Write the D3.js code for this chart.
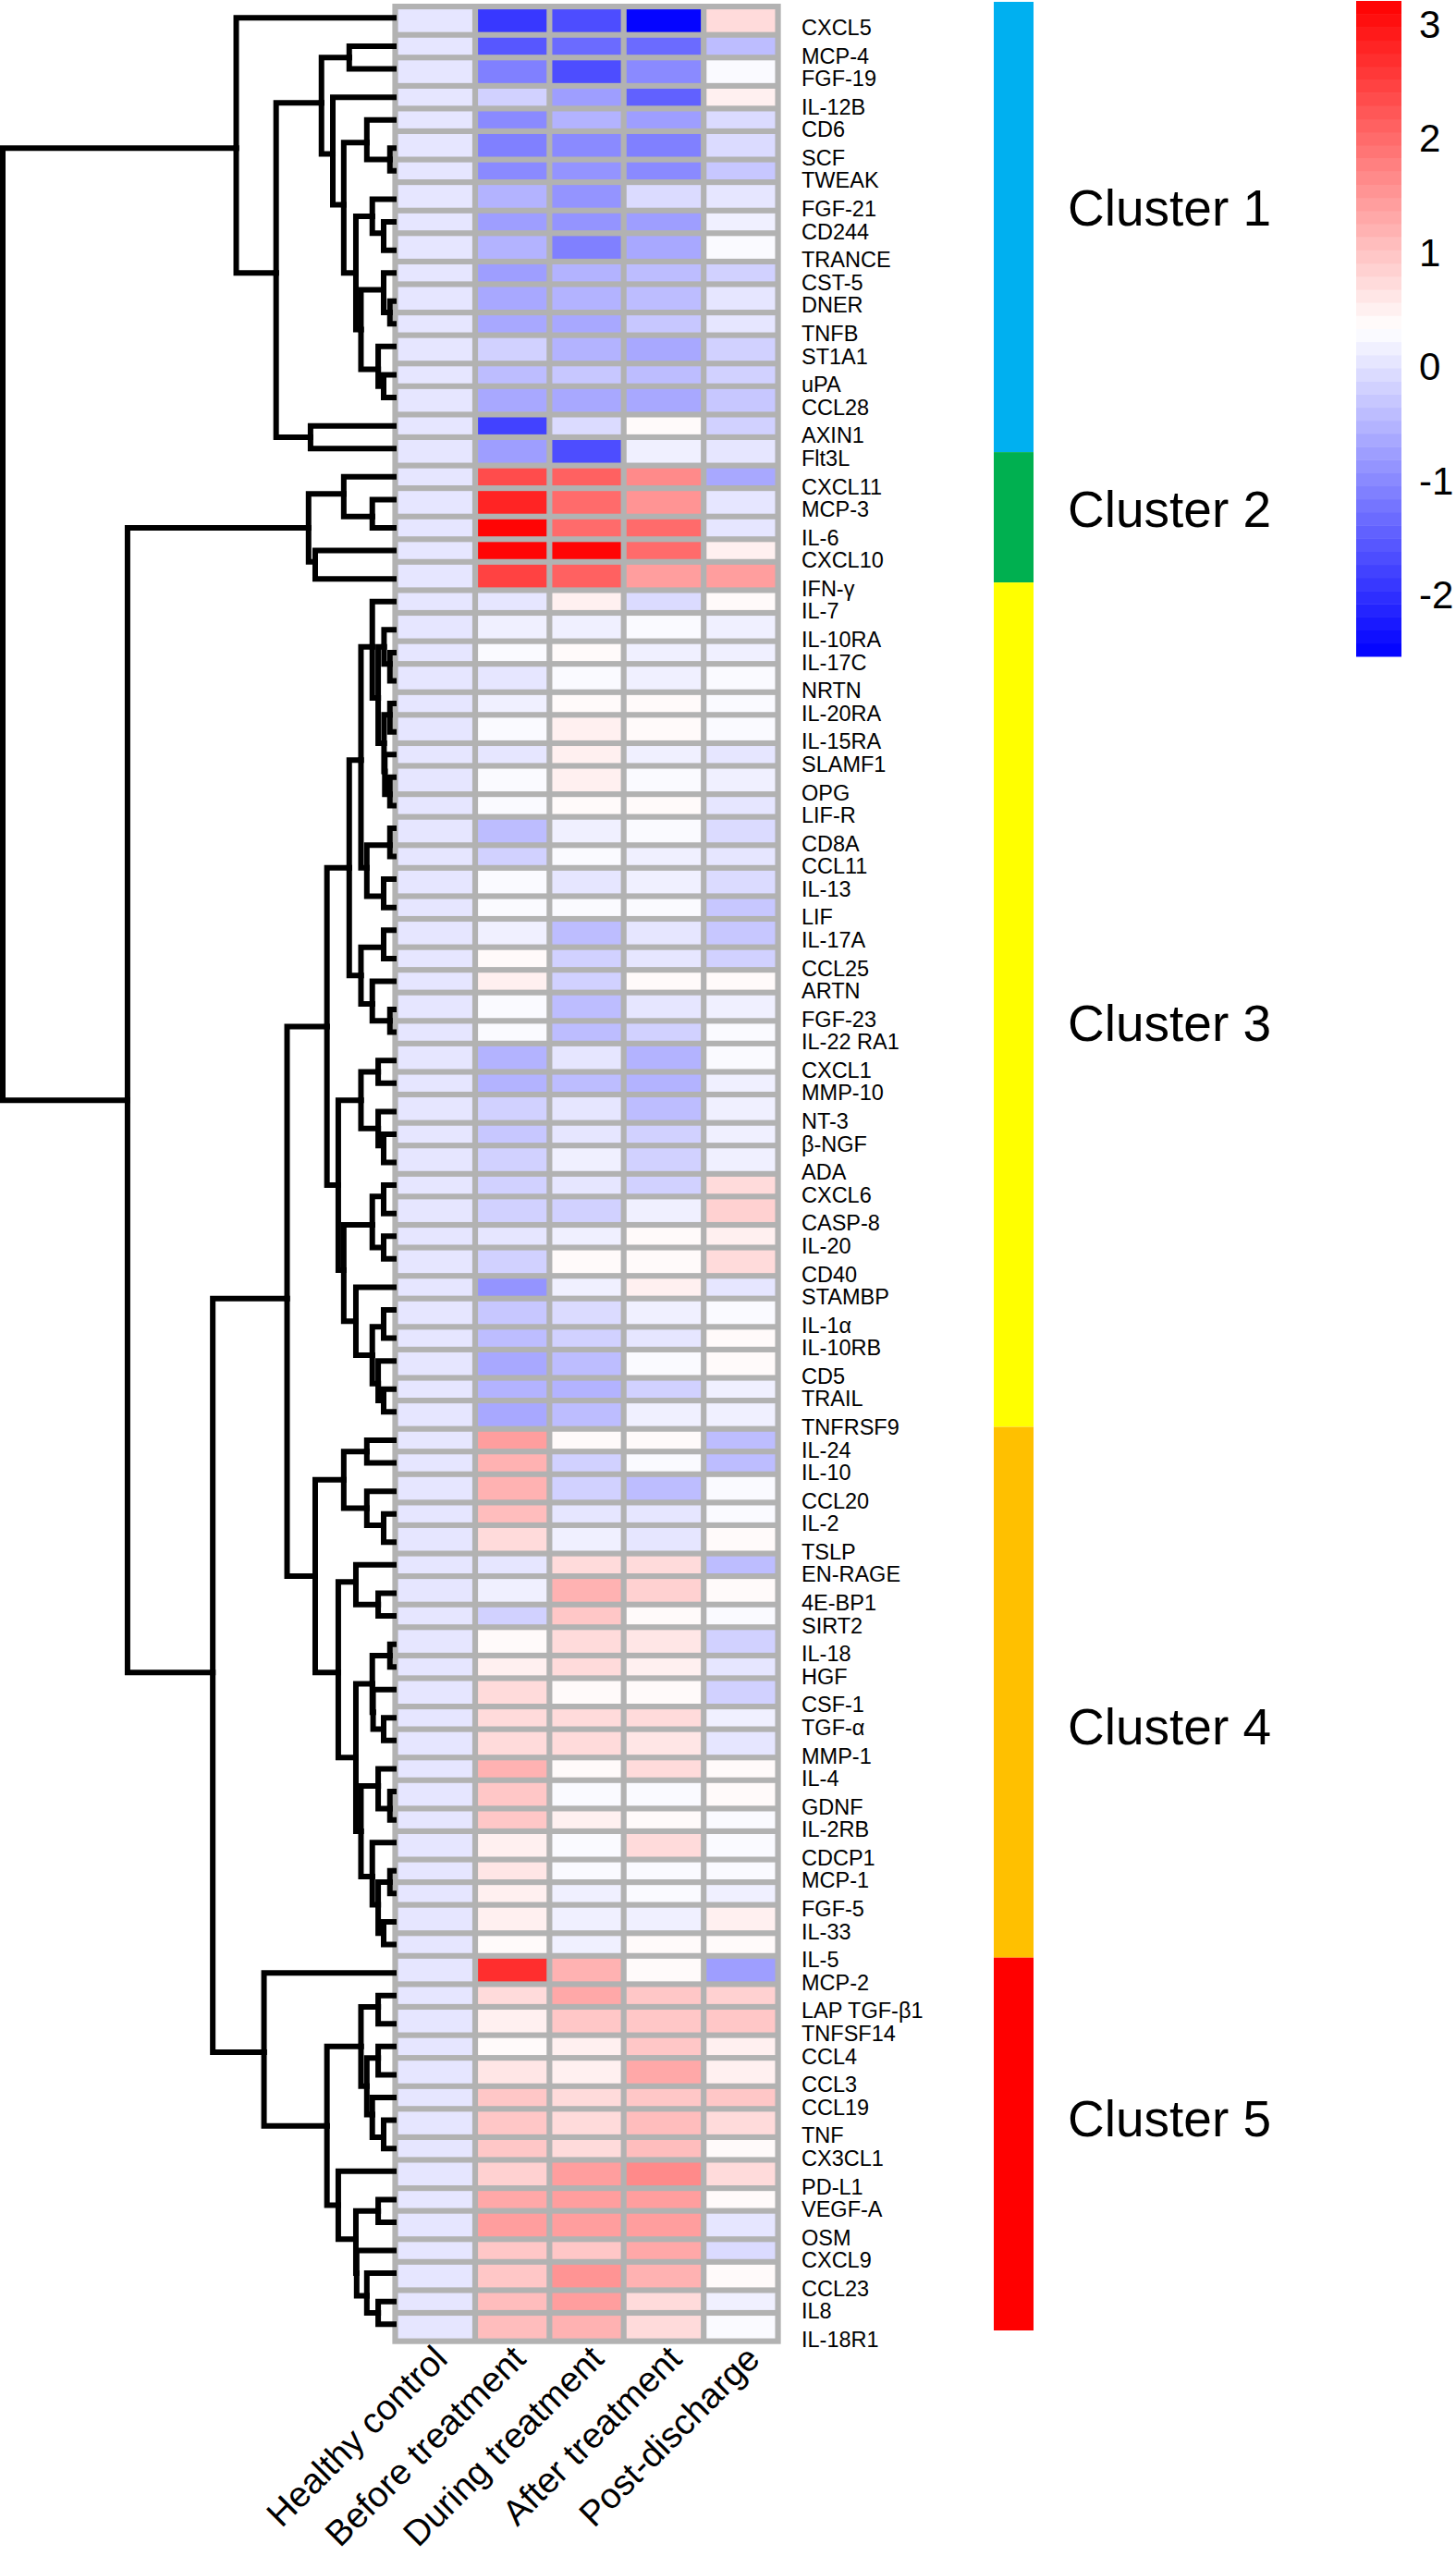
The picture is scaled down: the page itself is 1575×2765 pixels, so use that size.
<!DOCTYPE html>
<html>
<head>
<meta charset="utf-8">
<script src="https://cdn.jsdelivr.net/npm/d3@7"></script>
<style>
    body { margin: 0; background: #fff; }
    text { font-family: "Liberation Sans", Arial, sans-serif; fill: #000; }
</style>
</head>
<body>
<script>
var groups = ['Healthy control', 'Before treatment', 'During treatment', 'After treatment', 'Post-discharge'];

var proteins = ['CXCL5', 'MCP-4', 'FGF-19', 'IL-12B', 'CD6', 'SCF', 'TWEAK', 'FGF-21', 'CD244', 'TRANCE', 'CST-5', 'DNER', 'TNFB', 'ST1A1', 'uPA', 'CCL28', 'AXIN1', 'Flt3L',
    'CXCL11', 'MCP-3', 'IL-6', 'CXCL10', 'IFN-γ',
    'IL-7', 'IL-10RA', 'IL-17C', 'NRTN', 'IL-20RA', 'IL-15RA', 'SLAMF1', 'OPG', 'LIF-R', 'CD8A', 'CCL11', 'IL-13', 'LIF', 'IL-17A', 'CCL25', 'ARTN', 'FGF-23', 'IL-22 RA1', 'CXCL1', 'MMP-10', 'NT-3', 'β-NGF', 'ADA', 'CXCL6', 'CASP-8', 'IL-20', 'CD40', 'STAMBP', 'IL-1α', 'IL-10RB', 'CD5', 'TRAIL', 'TNFRSF9',
    'IL-24', 'IL-10', 'CCL20', 'IL-2', 'TSLP', 'EN-RAGE', '4E-BP1', 'SIRT2', 'IL-18', 'HGF', 'CSF-1', 'TGF-α', 'MMP-1', 'IL-4', 'GDNF', 'IL-2RB', 'CDCP1', 'MCP-1', 'FGF-5', 'IL-33', 'IL-5',
    'MCP-2', 'LAP TGF-β1', 'TNFSF14', 'CCL4', 'CCL3', 'CCL19', 'TNF', 'CX3CL1', 'PD-L1', 'VEGF-A', 'OSM', 'CXCL9', 'CCL23', 'IL8', 'IL-18R1'];

// 各组数值，顺序同 proteins
var healthy = [0, 0, 0, 0, 0, 0, 0, 0, 0, 0, 0, 0, 0, 0, 0, 0, 0, 0,
    0, 0, 0, 0, 0,
    0, 0, 0, 0, 0, 0, 0, 0, 0, 0, 0, 0, 0, 0, 0, 0, 0, 0, 0, 0, 0, 0, 0, 0, 0, 0, 0, 0, 0, 0, 0, 0, 0,
    0, 0, 0, 0, 0, 0, 0, 0, 0, 0, 0, 0, 0, 0, 0, 0, 0, 0, 0, 0, 0,
    0, 0, 0, 0, 0, 0, 0, 0, 0, 0, 0, 0, 0, 0, 0];
var before = [-1.95, -1.6, -1.07, -0.23, -1.0, -1.07, -0.94, -0.5, -0.72, -0.5, -0.72, -0.66, -0.62, -0.23, -0.42, -0.6, -1.8, -0.8,
    2.4, 2.85, 3.21, 3.21, 2.49,
    0.05, 0.17, 0.28, 0.05, 0.17, 0.28, 0.01, 0.28, 0.28, -0.37, -0.15, 0.3, 0.28, 0.17, 0.42, 0.53, 0.3, 0.3, -0.53, -0.5, -0.2, -0.32, -0.23, -0.23, -0.15, 0.01, -0.23, -0.9, -0.32, -0.37, -0.66, -0.55, -0.66,
    1.41, 1.18, 1.18, 1.05, 0.78, 0.01, 0.17, -0.15, 0.39, 0.51, 0.78, 0.78, 0.78, 1.15, 0.96, 1.0, 0.53, 0.65, 0.51, 0.51, 0.42,
    2.65, 0.7, 0.51, 0.42, 0.65, 1.0, 0.93, 0.96, 0.82, 1.35, 1.48, 1.0, 0.96, 1.05, 1.05];
var during = [-1.63, -1.3, -1.64, -0.77, -0.5, -0.94, -0.9, -0.9, -0.9, -1.07, -0.53, -0.5, -0.6, -0.5, -0.32, -0.6, -0.1, -1.72,
    2.17, 1.95, 1.95, 3.21, 2.13,
    0.51, 0.17, 0.42, 0.28, 0.42, 0.53, 0.53, 0.53, 0.42, 0.17, 0.28, 0.05, 0.28, -0.37, -0.23, -0.23, -0.37, -0.37, 0.01, -0.37, 0.01, 0.01, 0.17, 0.01, -0.15, 0.17, 0.42, 0.17, -0.1, -0.23, -0.37, -0.5, -0.37,
    0.42, -0.15, -0.15, 0.01, 0.17, 0.7, 1.15, 1.0, 0.78, 0.78, 0.39, 0.7, 0.7, 0.39, 0.28, 0.51, 0.28, 0.28, 0.17, 0.17, 0.17,
    1.15, 1.27, 0.96, 0.53, 0.51, 0.7, 0.75, 0.7, 1.45, 1.41, 1.41, 1.0, 1.59, 1.45, 1.15];
var after = [-2.53, -1.3, -1.0, -1.46, -0.72, -1.07, -0.94, -0.06, -0.72, -0.6, -0.4, -0.4, -0.28, -0.66, -0.45, -0.6, 0.42, 0.17,
    1.68, 1.59, 1.95, 2.04, 1.41,
    -0.1, 0.28, 0.17, 0.17, 0.45, 0.45, 0.17, 0.25, 0.45, 0.28, 0.17, 0.17, 0.28, 0.05, 0.05, 0.42, 0.01, -0.15, -0.53, -0.53, -0.42, -0.15, -0.23, -0.15, 0.17, 0.42, 0.42, 0.5, 0.17, 0.01, 0.25, -0.15, 0.17,
    0.42, 0.28, -0.37, 0.01, 0.07, 0.78, 0.82, 0.42, 0.6, 0.53, 0.39, 0.75, 0.6, 0.7, 0.25, 0.42, 0.7, 0.25, 0.25, 0.15, 0.42,
    0.39, 1.0, 0.96, 0.96, 1.27, 1.0, 1.07, 1.05, 1.68, 1.41, 1.41, 1.3, 1.15, 0.7, 0.75];
var post = [0.69, -0.37, 0.28, 0.53, -0.1, -0.1, -0.28, 0.05, 0.17, 0.28, -0.15, 0.05, 0.0, -0.23, -0.23, -0.32, -0.23, 0.0,
    -0.6, 0.0, 0.0, 0.53, 1.41,
    0.42, 0.15, 0.17, 0.28, 0.28, 0.28, 0.01, 0.17, 0.01, -0.1, 0.01, -0.1, -0.25, -0.28, -0.23, 0.42, 0.17, 0.3, 0.28, 0.17, 0.17, 0.17, 0.15, 0.78, 0.82, 0.51, 0.78, 0.07, 0.25, 0.42, 0.42, 0.17, 0.17,
    -0.42, -0.37, 0.28, 0.28, 0.42, -0.42, 0.42, 0.25, -0.15, 0.01, -0.23, 0.17, 0.01, 0.42, 0.42, 0.25, 0.25, 0.25, 0.15, 0.51, 0.42,
    -0.72, 0.82, 0.96, 0.53, 0.53, 1.0, 0.75, 0.42, 0.75, 0.42, 0.0, -0.1, 0.42, 0.15, 0.28];
var columns = [healthy, before, during, after, post];

var clusterNames = ['Cluster 1', 'Cluster 2', 'Cluster 3', 'Cluster 4', 'Cluster 5'];
var clusterEdges = [0, 17.79, 22.94, 56.3, 77.27, 92]; // 色条分界，以行为单位
var clusterLabelRows = [7.3, 19.2, 39.5, 67.3, 82.8];
var clusterColors = ['#00b0f0', '#00b050', '#ffff00', '#ffc000', '#ff0000'];

var legendTicks = [-2, -1, 0, 1, 2, 3];

// 聚类树: [合并高度, 左, 右]
var dendro = [100,
    [40.3, 'CXCL5',
        [30.1,
            [18.5, [11.4, 'MCP-4', 'FGF-19'],
                [15.6, 'IL-12B',
                    [12.8,
                        [6.9, 'CD6', [1.0, 'SCF', 'TWEAK']],
                        [9.7,
                            [5.5, 'FGF-21', [2.6, 'CD244', 'TRANCE']],
                            [8.4,
                                [2.6, 'CST-5', [1.0, 'DNER', 'TNFB']],
                                [4.0, 'ST1A1', [2.6, 'uPA', 'CCL28']]]]]]],
            [21.3, 'AXIN1', 'Flt3L']]],
    [68.1,
        [21.8,
            [12.8, 'CXCL11', [5.5, 'MCP-3', 'IL-6']],
            [20.1, 'CXCL10', 'IFN-γ']],
        [46.3,
            [27.3,
                [17.1,
                    [11.4,
                        [8.4,
                            [5.5, 'IL-7',
                                [4.0,
                                    [2.5, 'IL-10RA', [1.0, 'IL-17C', 'NRTN']],
                                    [2.5, [1.0, 'IL-20RA', 'IL-15RA'],
                                        [2.3, 'SLAMF1', [1.0, 'OPG', 'LIF-R']]]]],
                            [6.9, [1.0, 'CD8A', 'CCL11'], [2.6, 'IL-13', 'LIF']]],
                        [8.4, [2.6, 'IL-17A', 'CCL25'],
                            [5.5, 'ARTN', [1.0, 'FGF-23', 'IL-22 RA1']]]],
                    [14.2,
                        [8.4, [4.0, 'CXCL1', 'MMP-10'],
                            [4.0, 'NT-3', [2.6, 'β-NGF', 'ADA']]],
                        [12.8,
                            [5.5, [2.6, 'CXCL6', 'CASP-8'], [2.6, 'IL-20', 'CD40']],
                            [9.7, 'STAMBP',
                                [5.5, [2.6, 'IL-1α', 'IL-10RB'],
                                    [4.0, 'CD5', [2.6, 'TRAIL', 'TNFRSF9']]]]]]],
                [20.1,
                    [12.8, [6.9, 'IL-24', 'IL-10'],
                        [6.9, 'CCL20', [2.6, 'IL-2', 'TSLP']]],
                    [14.2,
                        [9.7, 'EN-RAGE', [4.0, '4E-BP1', 'SIRT2']],
                        [9.7,
                            [5.5, [1.0, 'IL-18', 'HGF'],
                                [5.3, 'CSF-1', [2.6, 'TGF-α', 'MMP-1']]],
                            [8.4,
                                [4.0, 'IL-4', [1.0, 'GDNF', 'IL-2RB']],
                                [5.5, 'CDCP1',
                                    [4.0, [1.0, 'MCP-1', 'FGF-5'], [2.6, 'IL-33', 'IL-5']]]]]]]],
            [33.2, 'MCP-2',
                [17.1,
                    [8.4, [4.0, 'LAP TGF-β1', 'TNFSF14'],
                        [6.9, [4.0, 'CCL4', 'CCL3'],
                            [5.5, 'CCL19', [2.6, 'TNF', 'CX3CL1']]]],
                    [14.2, 'PD-L1',
                        [9.7, [4.0, 'VEGF-A', 'OSM'],
                            [9.5, 'CXCL9',
                                [6.9, 'CCL23', [4.0, 'IL8', 'IL-18R1']]]]]]]]]];

var width = 1575,
    height = 2765;

var svg = d3.select('body').append('svg').attr('width', width).attr('height', height).style('display', 'block');

// 原图是低分辨率放大的，格子都落在粗像素上
var pixelX = 6.18,
    pixelY = 6.13,
    originX = 424.4,
    originY = 4;

function snapX(v) {
    return originX + Math.round((v - originX) / pixelX) * pixelX;
}

function snapY(v) {
    return originY + Math.round((v - originY) / pixelY) * pixelY;
}

var xBand = d3.scaleBand().domain(groups).range([originX + 1.2 * pixelX, originX + 68.2 * pixelX]);
var yBand = d3.scaleBand().domain(proteins).range([originY + 1.1 * pixelY, originY + 412.5 * pixelY]);
var yLabel = d3.scalePoint().domain(proteins).range([29.9, 2528]);
var xLabel = d3.scalePoint().domain(groups).range([486, 824]);

var vMin = -2.53,
    vMax = 3.21,
    vMid = (vMin + vMax) / 2;
var colorRamp = d3.scaleLinear().domain([vMin, vMid, vMax]).range(['#0000ff', '#ffffff', '#ff0000']);
var color = d3.scaleQuantize().domain([vMin, vMax]).range(d3.range(50).map(function (i) {
    return colorRamp(vMin + (vMax - vMin) * (i + 0.5) / 50);
}));

// 热图
function cellLeft(g) { return snapX(xBand(g)); }
function cellRight(g) { return snapX(xBand(g) + xBand.bandwidth()) - pixelX; }
function cellTop(p) { return snapY(yBand(p)); }
function cellBottom(p) { return snapY(yBand(p) + yBand.bandwidth()) - pixelY; }

svg.append('rect')
    .attr('x', cellLeft(groups[0]) - pixelX)
    .attr('y', originY)
    .attr('width', cellRight(groups[4]) - cellLeft(groups[0]) + 2 * pixelX)
    .attr('height', cellBottom(proteins[proteins.length - 1]) - originY + pixelY)
    .style('fill', '#b2b2b2');

var cellData = [];
groups.forEach(function (g, i) {
    proteins.forEach(function (p, j) {
        cellData.push({ group: g, protein: p, value: columns[i][j] });
    });
});

svg.append('g').selectAll('rect')
    .data(cellData)
    .enter()
    .append('rect')
    .attr('x', function (d) { return cellLeft(d.group); })
    .attr('y', function (d) { return cellTop(d.protein); })
    .attr('width', function (d) { return cellRight(d.group) - cellLeft(d.group); })
    .attr('height', function (d) { return cellBottom(d.protein) - cellTop(d.protein); })
    .style('fill', function (d) { return color(d.value); });

// 行标签
svg.append('g').selectAll('text')
    .data(proteins)
    .enter()
    .append('text')
    .attr('x', 867)
    .attr('y', function (d) { return snapY(yLabel(d)) + 1; })
    .attr('dy', '0.36em')
    .style('font-size', '23.5px')
    .text(function (d) { return d; });

// 列标签
svg.append('g').selectAll('text')
    .data(groups)
    .enter()
    .append('text')
    .attr('transform', function (d) {
        return 'translate(' + xLabel(d) + ',2554) rotate(-45)';
    })
    .style('text-anchor', 'end')
    .style('font-size', '38.5px')
    .text(function (d) { return d; });

// 聚类树
var xTree = d3.scaleLinear().domain([0, 100]).range([426, 3]);
var root = d3.hierarchy(dendro, function (d) {
    return Array.isArray(d) ? d.slice(1) : null;
});
root.eachAfter(function (node) {
    if (node.children) {
        node.treeX = xTree(node.data[0]);
        node.treeY = d3.mean(node.children, function (c) { return c.treeY; });
    } else {
        node.treeX = xTree(0);
        node.treeY = yBand(node.data) + yBand.bandwidth() / 2;
    }
});

function lineY(v) {
    return snapY(v - pixelY) + pixelY / 2;
}

svg.append('g').selectAll('path')
    .data(root.links())
    .enter()
    .append('path')
    .attr('d', function (d) {
        return 'M' + d.target.treeX + ',' + lineY(d.target.treeY) +
            'H' + d.source.treeX +
            'V' + lineY(d.source.treeY);
    })
    .style('fill', 'none')
    .style('stroke', '#000')
    .style('stroke-width', 6)
    .style('stroke-linejoin', 'miter')
    .style('stroke-linecap', 'square');

// 分群色条
var yCluster = d3.scaleLinear().domain([0, 92]).range([2, 2521]);
clusterNames.forEach(function (name, i) {
    var y0 = yCluster(clusterEdges[i]),
        y1 = yCluster(clusterEdges[i + 1]);
    svg.append('rect')
        .attr('x', 1075)
        .attr('y', y0)
        .attr('width', 43)
        .attr('height', y1 - y0)
        .style('fill', clusterColors[i]);
    svg.append('text')
        .attr('x', 1155)
        .attr('y', yCluster(clusterLabelRows[i]) + 42)
        .style('font-size', '55px')
        .text(name);
});

// 图例
var yLegend = d3.scaleLinear().domain([vMin, vMax]).range([710, 1]);
var bands = color.range().map(function (c) {
    return { fill: c, extent: color.invertExtent(c) };
});
svg.append('g').selectAll('rect')
    .data(bands)
    .enter()
    .append('rect')
    .attr('x', 1467)
    .attr('y', function (d) { return yLegend(d.extent[1]); })
    .attr('width', 49)
    .attr('height', function (d) { return yLegend(d.extent[0]) - yLegend(d.extent[1]) + 0.5; })
    .style('fill', function (d) { return d.fill; });

var legendAxis = d3.axisRight(yLegend).tickValues(legendTicks).tickSize(0).tickPadding(19)
    .tickFormat(function (d) { return d; });
var axisG = svg.append('g').attr('transform', 'translate(1516,0)').call(legendAxis);
axisG.select('.domain').remove();
axisG.selectAll('text').style('font-size', '42px').style('font-family', '"Liberation Sans", Arial, sans-serif');
</script>
</body>
</html>
